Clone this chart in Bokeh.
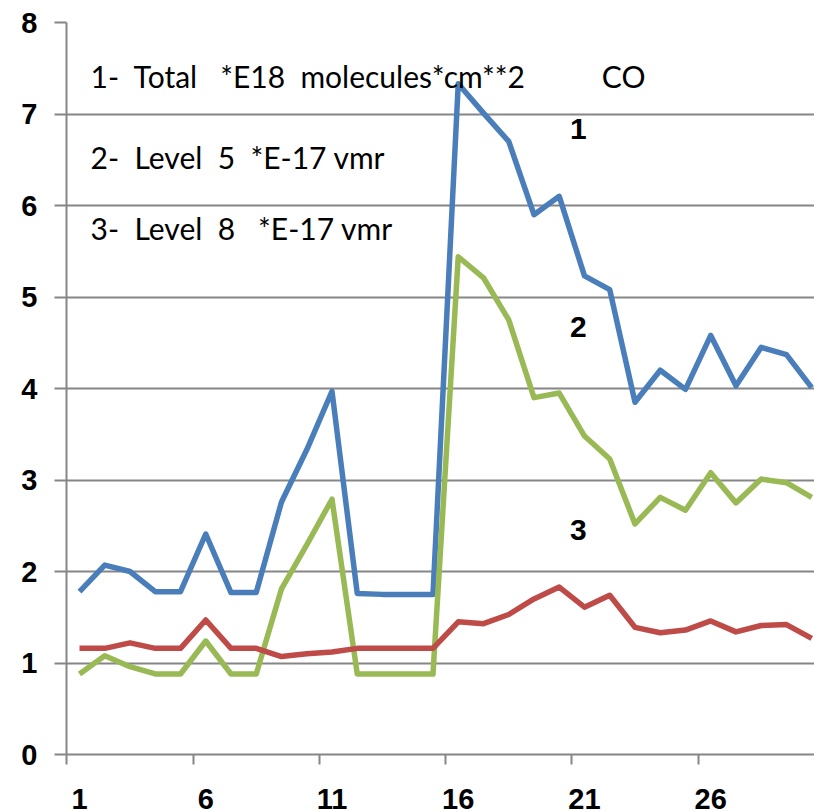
from bokeh.plotting import figure
from bokeh.models import Range1d, FixedTicker, Label
from bokeh.embed import file_html
from bokeh.resources import INLINE

days = list(range(1, 31))
total = [1.78, 2.07, 2.00, 1.78, 1.78, 2.41, 1.77, 1.77, 2.76, 3.33,
         3.97, 1.76, 1.75, 1.75, 1.75, 7.33, 7.01, 6.70, 5.90, 6.10,
         5.23, 5.08, 3.85, 4.20, 3.99, 4.58, 4.03, 4.45, 4.37, 4.01]
level5 = [0.88, 1.08, 0.96, 0.88, 0.88, 1.24, 0.88, 0.88, 1.81, 2.29,
          2.79, 0.88, 0.88, 0.88, 0.88, 5.44, 5.21, 4.75, 3.90, 3.95,
          3.48, 3.23, 2.52, 2.81, 2.67, 3.08, 2.75, 3.01, 2.97, 2.81]
level8 = [1.16, 1.16, 1.22, 1.16, 1.16, 1.47, 1.16, 1.16, 1.07, 1.10,
          1.12, 1.16, 1.16, 1.16, 1.16, 1.45, 1.43, 1.53, 1.70, 1.83,
          1.61, 1.74, 1.39, 1.33, 1.36, 1.46, 1.34, 1.41, 1.42, 1.27]
x_tick_labels = [1, 6, 11, 16, 21, 26]
y_ticks = [0, 1, 2, 3, 4, 5, 6, 7, 8]

NB = "\u00a0"
note_lines = [
    "1-" + NB + " Total" + NB * 2 + " *E18" + NB + " molecules*cm**2" + NB * 9 + " CO",
    "2-" + NB + " Level" + NB + " 5" + NB + " *E-17 vmr",
    "3-" + NB + " Level" + NB + " 8" + NB * 2 + " *E-17 vmr",
]
series_tags = ["1", "2", "3"]

GRAY = "#868686"
FONT = "Liberation Sans"
TFONT = "Lato"

p = figure(width=814, height=811, output_backend="svg", toolbar_location=None,
           x_range=Range1d(0.485, 30.11), y_range=Range1d(0, 8),
           min_border_left=66, min_border_right=0, min_border_top=22,
           min_border_bottom=55)
p.outline_line_color = None
p.background_fill_color = "white"
p.border_fill_color = "white"

p.line(days, total, line_color="#4A7EBB", line_width=5.5, line_join="round")
p.line(days, level5, line_color="#98B954", line_width=5.5, line_join="round")
p.line(days, level8, line_color="#BE4B48", line_width=5.5, line_join="round")

p.xgrid.grid_line_color = None
p.ygrid.ticker = FixedTicker(ticks=y_ticks)
p.ygrid.grid_line_color = GRAY
p.ygrid.grid_line_width = 2

# x axis: labels centred on categories, tick marks between categories
p.xaxis.ticker = FixedTicker(ticks=x_tick_labels,
                             minor_ticks=[t - 0.5 for t in x_tick_labels])
p.xaxis.axis_line_color = GRAY
p.xaxis.axis_line_width = 2
p.xaxis.major_tick_line_color = None
p.xaxis.major_tick_out = 0
p.xaxis.major_tick_in = 0
p.xaxis.minor_tick_line_color = GRAY
p.xaxis.minor_tick_line_width = 2
p.xaxis.minor_tick_out = 10
p.xaxis.minor_tick_in = 0
p.xaxis.major_label_standoff = 24
p.xaxis.major_label_text_font = FONT
p.xaxis.major_label_text_font_style = "bold"
p.xaxis.major_label_text_font_size = "29px"
p.xaxis.major_label_text_color = "black"

# y axis
p.yaxis.ticker = FixedTicker(ticks=y_ticks)
p.yaxis.axis_line_color = GRAY
p.yaxis.axis_line_width = 2
p.yaxis.major_tick_line_color = GRAY
p.yaxis.major_tick_line_width = 2
p.yaxis.major_tick_out = 12
p.yaxis.major_tick_in = 0
p.yaxis.minor_tick_line_color = None
p.yaxis.major_label_standoff = 17
p.yaxis.major_label_text_font = FONT
p.yaxis.major_label_text_font_style = "bold"
p.yaxis.major_label_text_font_size = "29px"
p.yaxis.major_label_text_color = "black"

for txt, yy in zip(note_lines, [7.413, 6.534, 5.757]):
    p.add_layout(Label(x=1.44, y=yy, text=txt, text_font=TFONT,
                       text_font_size="30px", text_color="black",
                       text_baseline="alphabetic", text_align="left"))

for txt, yy in zip(series_tags, [6.84, 4.67, 2.45]):
    p.add_layout(Label(x=20.76, y=yy, text=txt, text_font=FONT,
                       text_font_style="bold", text_font_size="30px",
                       text_color="black", text_baseline="middle",
                       text_align="center"))

open("out.html", "w").write(file_html(p, INLINE))
